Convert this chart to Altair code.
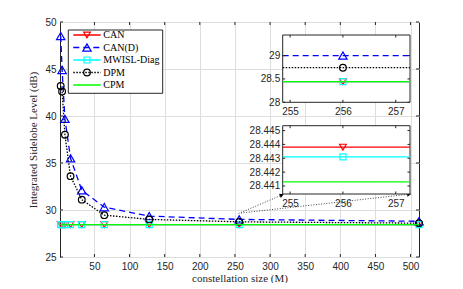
import altair as alt
import pandas as pd

# ---------------- data ----------------
series = ["CAN", "CAN(D)", "MWISL-Diag", "DPM", "CPM"]
colors = ["#ff0000", "#0000ff", "#00ffff", "#000000", "#00ff00"]
dashes = [[1, 0], [6, 4], [1, 0], [1.5, 1.5], [1, 0]]
shapes = ["triangle-down", "triangle-up", "square", "circle", None]
marker_sizes = [45, 70, 36, 45, 0]

M = [2, 4, 8, 16, 32, 64, 128, 256, 512]
isl_can = [28.4438, 28.4438, 28.4438, 28.4438, 28.4438, 28.4438, 28.4438, 28.4438, 28.4438]
isl_cand = [48.5, 44.9, 39.7, 35.5, 32.1, 30.3, 29.35, 29.0, 28.8]
isl_mwisl = [28.4431, 28.4431, 28.4431, 28.4431, 28.4431, 28.4431, 28.4431, 28.4431, 28.4431]
isl_dpm = [43.2, 42.6, 38.0, 33.6, 31.1, 29.45, 29.0, 28.74, 28.6]
isl_cpm = [28.4413, 28.4413, 28.4413, 28.4413, 28.4413, 28.4413, 28.4413, 28.4413, 28.4413]
values = [isl_can, isl_cand, isl_mwisl, isl_dpm, isl_cpm]

x_ticks = [50, 100, 150, 200, 250, 300, 350, 400, 450, 500]
y_ticks = [25, 30, 35, 40, 45, 50]
inset_x_ticks = [255, 256, 257]
inset1_y_ticks = [28, 28.5, 29]
inset2_y_ticks = [28.441, 28.442, 28.443, 28.444, 28.445]
inset_M = 256

# ---------------- layout ----------------
W, H = 359, 235
SANS = "Liberation Sans"
SERIF = "Liberation Serif"
TXT = "#262626"

xs = alt.Scale(domain=[1, 512], nice=False, zero=False)
ys = alt.Scale(domain=[25, 50], nice=False, zero=False)

I_L, I_R = 222.7, 350
I1_T, I1_B = 13, 80.3
I2_T, I2_B = 103.7, 172
xt = alt.Scale(domain=[254.86, 257.27], range=[I_L, I_R], nice=False, zero=False)
yt1 = alt.Scale(domain=[28, 29.44], range=[I1_B, I1_T], nice=False, zero=False)
yt2 = alt.Scale(domain=[28.44042, 28.44535], range=[I2_B, I2_T], nice=False, zero=False)

layers = []

# main axes (grid) carrier
xaxis = alt.Axis(values=x_ticks, grid=True, gridColor="#dedede", gridWidth=1,
                 ticks=False, domain=False, labelFont=SANS, labelFontSize=10,
                 labelColor=TXT, labelPadding=4, labelFlush=False,
                 title="constellation size (M)", titleFont=SERIF, titleFontSize=11,
                 titleFontWeight="normal", titleColor=TXT, titlePadding=1)
yaxis = alt.Axis(values=y_ticks, grid=True, gridColor="#dedede", gridWidth=1,
                 ticks=False, domain=False, labelFont=SANS, labelFontSize=10,
                 labelColor=TXT, labelPadding=4,
                 title="Integrated Sidelobe Level (dB)", titleFont=SERIF, titleFontSize=11,
                 titleFontWeight="normal", titleColor=TXT, titlePadding=6)

first = True
for s, c, d, sh, sz, vals in zip(series, colors, dashes, shapes, marker_sizes, values):
    df = pd.DataFrame({"M": M, "v": vals})
    enc = dict(x=alt.X("M:Q", scale=xs, axis=xaxis if first else None),
               y=alt.Y("v:Q", scale=ys, axis=yaxis if first else None))
    first = False
    layers.append(alt.Chart(df).mark_line(color=c, strokeDash=d, strokeWidth=1.3).encode(**enc))
    if sh is not None:
        layers.append(alt.Chart(df).mark_point(shape=sh, filled=False, color=c, size=sz,
                                               strokeWidth=1.2, opacity=1).encode(
            x=alt.X("M:Q", scale=xs, axis=None), y=alt.Y("v:Q", scale=ys, axis=None)))

# inward ticks of main frame
dfx = pd.DataFrame({"t": x_ticks})
dfy = pd.DataFrame({"t": y_ticks})
for y0, y1 in [(H, H - 3), (0, 3)]:
    layers.append(alt.Chart(dfx).mark_rule(color=TXT, strokeWidth=1).encode(
        x=alt.X("t:Q", scale=xs, axis=None), y=alt.value(y0), y2=alt.value(y1)))
for x0, x1 in [(0, 3), (W, W - 3)]:
    layers.append(alt.Chart(dfy).mark_rule(color=TXT, strokeWidth=1).encode(
        y=alt.Y("t:Q", scale=ys, axis=None), x=alt.value(x0), x2=alt.value(x1)))

# annotation arrows
arrows = [((178.5, 191.5), (221.2, 173.3), 67), ((181, 191), (348.5, 172.3), 83.5)]
for (sx, sy), (ex, ey), ang in arrows:
    layers.append(alt.Chart().mark_rule(color="#333333", strokeDash=[1, 1.6], strokeWidth=0.9).encode(
        x=alt.value(sx), y=alt.value(sy), x2=alt.value(ex), y2=alt.value(ey)))
    layers.append(alt.Chart().mark_point(shape="triangle", angle=ang, filled=True, color="#000000",
                                         size=22, opacity=1).encode(
        x=alt.value(ex), y=alt.value(ey)))

# ---------------- insets ----------------
idx = M.index(inset_M)


def inset(yscale, top, bottom, yticks):
    out = []
    out.append(alt.Chart().mark_rect(fill="white", stroke=TXT, strokeWidth=1).encode(
        x=alt.value(I_L), x2=alt.value(I_R), y=alt.value(top), y2=alt.value(bottom)))
    lo, hi = yscale.domain[0], yscale.domain[1]
    for s, c, d, sh, sz, vals in zip(series, colors, dashes, shapes, marker_sizes, values):
        v = vals[idx]
        if not (lo <= v <= hi):
            continue
        df = pd.DataFrame({"M": [inset_M], "v": [v]})
        out.append(alt.Chart(df).mark_rule(color=c, strokeDash=d, strokeWidth=1.3).encode(
            y=alt.Y("v:Q", scale=yscale, axis=None), x=alt.value(I_L), x2=alt.value(I_R)))
        if sh is not None:
            out.append(alt.Chart(df).mark_point(shape=sh, filled=False, color=c, size=sz,
                                                strokeWidth=1.2, opacity=1).encode(
                x=alt.X("M:Q", scale=xt, axis=None), y=alt.Y("v:Q", scale=yscale, axis=None)))
    # inward ticks
    dtx = pd.DataFrame({"t": inset_x_ticks})
    dty = pd.DataFrame({"t": yticks})
    for y0, y1 in [(bottom, bottom - 2.5), (top, top + 2.5)]:
        out.append(alt.Chart(dtx).mark_rule(color=TXT, strokeWidth=1).encode(
            x=alt.X("t:Q", scale=xt, axis=None), y=alt.value(y0), y2=alt.value(y1)))
    for x0, x1 in [(I_L, I_L + 2.5), (I_R, I_R - 2.5)]:
        out.append(alt.Chart(dty).mark_rule(color=TXT, strokeWidth=1).encode(
            y=alt.Y("t:Q", scale=yscale, axis=None), x=alt.value(x0), x2=alt.value(x1)))
    # axes carrier (invisible points)
    dax = pd.DataFrame({"M": [inset_M], "v": [yticks[0]]})
    out.append(alt.Chart(dax).mark_point(opacity=0, size=1).encode(
        x=alt.X("M:Q", scale=xt, axis=alt.Axis(
            orient="bottom", offset=bottom - H, values=inset_x_ticks, grid=False, ticks=False,
            domain=False, labelFont=SANS, labelFontSize=10, labelColor=TXT, labelPadding=4,
            labelFlush=False, title=None, zindex=1)),
        y=alt.Y("v:Q", scale=yscale, axis=alt.Axis(
            orient="left", offset=-I_L, values=yticks, grid=False, ticks=False, format="~g",
            domain=False, labelFont=SANS, labelFontSize=10, labelColor=TXT, labelPadding=3,
            labelFlush=False, title=None, zindex=1))))
    return out


layers += inset(yt1, I1_T, I1_B, inset1_y_ticks)
layers += inset(yt2, I2_T, I2_B, inset2_y_ticks)

# ---------------- legend ----------------
L_L, L_R, L_T, L_B = 8.3, 102.7, 8, 71.3
layers.append(alt.Chart().mark_rect(fill="white", stroke=TXT, strokeWidth=1).encode(
    x=alt.value(L_L), x2=alt.value(L_R), y=alt.value(L_T), y2=alt.value(L_B)))
ly = alt.Scale(type="point", domain=series, range=[13, 63], padding=0)
for s, c, d, sh, sz in zip(series, colors, dashes, shapes, marker_sizes):
    dfl = pd.DataFrame({"s": [s]})
    layers.append(alt.Chart(dfl).mark_rule(color=c, strokeDash=d, strokeWidth=1.3).encode(
        y=alt.Y("s:N", scale=ly, axis=None), x=alt.value(13.3), x2=alt.value(40.7)))
    if sh is not None:
        layers.append(alt.Chart(dfl).mark_point(shape=sh, filled=False, color=c, size=sz,
                                                strokeWidth=1.2, opacity=1).encode(
            y=alt.Y("s:N", scale=ly, axis=None), x=alt.value(27)))
    layers.append(alt.Chart(dfl).mark_text(align="left", baseline="middle", font=SERIF,
                                           fontSize=10, color="#000000").encode(
        y=alt.Y("s:N", scale=ly, axis=None), x=alt.value(43.3), text="s:N"))

chart = alt.layer(*layers).resolve_scale(x="independent", y="independent").properties(
    width=W, height=H, autosize="none",
    padding={"left": 52, "top": 14, "right": 36, "bottom": 26},
    background="white",
).configure_view(stroke=TXT, strokeWidth=1)

chart.save("out.html", embed_options={"renderer": "svg", "actions": False})
